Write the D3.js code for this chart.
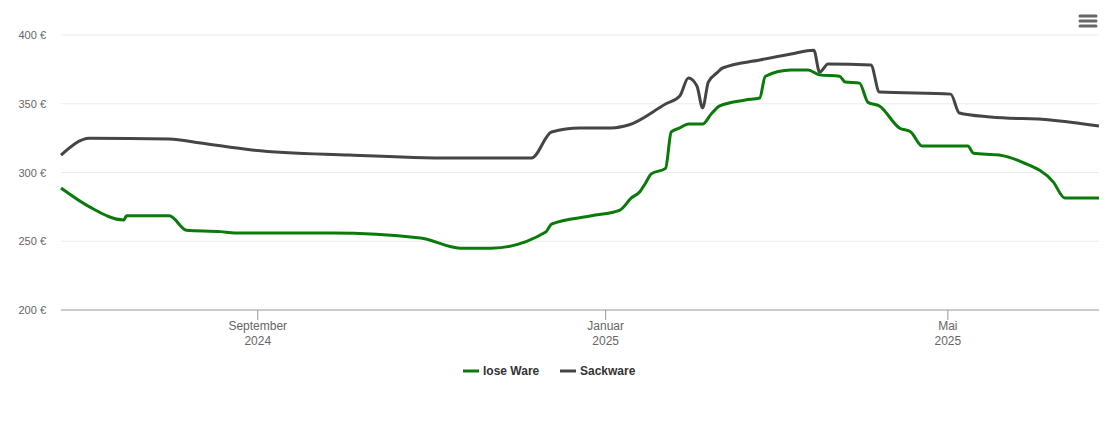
<!DOCTYPE html>
<html><head><meta charset="utf-8">
<script src="https://cdn.jsdelivr.net/npm/d3@7"></script>
<style>body{margin:0;background:#fff;font-family:"Liberation Sans",Arial,sans-serif}</style>
</head><body><svg id="c" width="1110" height="422"></svg>
<script>
const seriesNames = ["lose Ware", "Sackware"];
const seriesColors = ["#0a7a0a", "#454545"];
const looseDates = ["2024-06-24","2024-07-04","2024-07-16","2024-07-17","2024-08-01","2024-08-07","2024-08-19","2024-08-24","2024-09-27","2024-10-28","2024-11-11","2024-11-22","2024-12-11","2024-12-13","2024-12-27","2025-01-06","2025-01-10","2025-01-13","2025-01-15","2025-01-17","2025-01-22","2025-01-24","2025-01-27","2025-01-30","2025-02-04","2025-02-07","2025-02-10","2025-02-19","2025-02-24","2025-02-26","2025-03-07","2025-03-13","2025-03-17","2025-03-24","2025-03-26","2025-03-31","2025-04-03","2025-04-07","2025-04-14","2025-04-18","2025-04-22","2025-05-08","2025-05-10","2025-05-19","2025-05-27","2025-06-07","2025-06-11","2025-06-23"];
const looseValues = [288.7,275,265.5,268.5,268.5,258,257,256,256,252.4,245,245,256.7,262.5,268.5,272.7,281.5,286,292.4,299,303,329.5,332.4,335.3,335.3,342.5,348.4,352.7,354.2,370,374.5,374.5,371,370,365.8,365,351,348.4,332.4,329.5,319.3,319.3,314,312.7,307.6,293,281.5,281.5];
const sackDates = ["2024-06-24","2024-07-04","2024-08-01","2024-08-12","2024-08-30","2024-10-03","2024-11-08","2024-12-06","2024-12-13","2024-12-23","2025-01-03","2025-01-09","2025-01-22","2025-01-27","2025-01-30","2025-02-02","2025-02-04","2025-02-06","2025-02-09","2025-02-11","2025-02-24","2025-03-07","2025-03-15","2025-03-17","2025-03-20","2025-04-04","2025-04-07","2025-05-02","2025-05-05","2025-05-16","2025-06-06","2025-06-23"];
const sackValues = [312.7,325,324.4,321.5,316.4,312.7,310.5,310.5,329.5,332.4,332.4,334.5,349.8,355.6,368.7,362.9,347,365.8,372.4,376,381.8,386.2,389,373,378.9,378.2,358.5,357,343.3,340.4,338.2,333.8];
const yTicks = [200,250,300,350,400];
const xTickDates = ["2024-09-01","2025-01-01","2025-05-01"];
const xTickLabels = [["September","2024"],["Januar","2025"],["Mai","2025"]];

const svg = d3.select("#c");
const pd = d3.utcParse("%Y-%m-%d");
const x = d3.scaleUtc().domain([pd("2024-06-24"), pd("2025-06-23")]).range([61,1099]);
const y = d3.scaleLinear().domain([200,400]).range([310,35]);

const g = svg.append("g");
yTicks.forEach(t=>{
  g.append("line").attr("x1",61).attr("x2",1099).attr("y1",y(t)).attr("y2",y(t))
   .attr("stroke",t===200?"#999":"#ececec").attr("stroke-width",1);
  g.append("text").attr("x",46).attr("y",y(t)+4).attr("text-anchor","end")
   .attr("font-size",11).attr("fill","#666").text(t+" €");
});
xTickDates.forEach((d,i)=>{
  const xx = x(pd(d));
  g.append("line").attr("x1",xx).attr("x2",xx).attr("y1",310).attr("y2",320).attr("stroke","#999");
  xTickLabels[i].forEach((l,j)=>g.append("text").attr("x",xx).attr("y",330+j*15)
   .attr("text-anchor","middle").attr("font-size",12).attr("fill","#666").text(l));
});
const line = d3.line().x(d=>x(d[0])).y(d=>y(d[1])).curve(d3.curveMonotoneX);
[[looseDates,looseValues],[sackDates,sackValues]].forEach(([ds,vs],i)=>{
  svg.append("path").datum(ds.map((d,k)=>[pd(d),vs[k]])).attr("d",line)
   .attr("fill","none").attr("stroke",seriesColors[i]).attr("stroke-width",3).attr("stroke-linejoin","round");
});
// legend
const lx=[463,560];
seriesNames.forEach((n,i)=>{
  svg.append("line").attr("x1",lx[i]).attr("x2",lx[i]+16).attr("y1",371).attr("y2",371)
   .attr("stroke",seriesColors[i]).attr("stroke-width",3);
  svg.append("text").attr("x",lx[i]+20).attr("y",375).attr("font-size",12).attr("font-weight","bold")
   .attr("fill","#333").text(n);
});
// menu icon
[16,21,26].forEach(yy=>svg.append("line").attr("x1",1080).attr("x2",1096).attr("y1",yy).attr("y2",yy)
  .attr("stroke","#666").attr("stroke-width",3).attr("stroke-linecap","round"));
</script></body></html>
